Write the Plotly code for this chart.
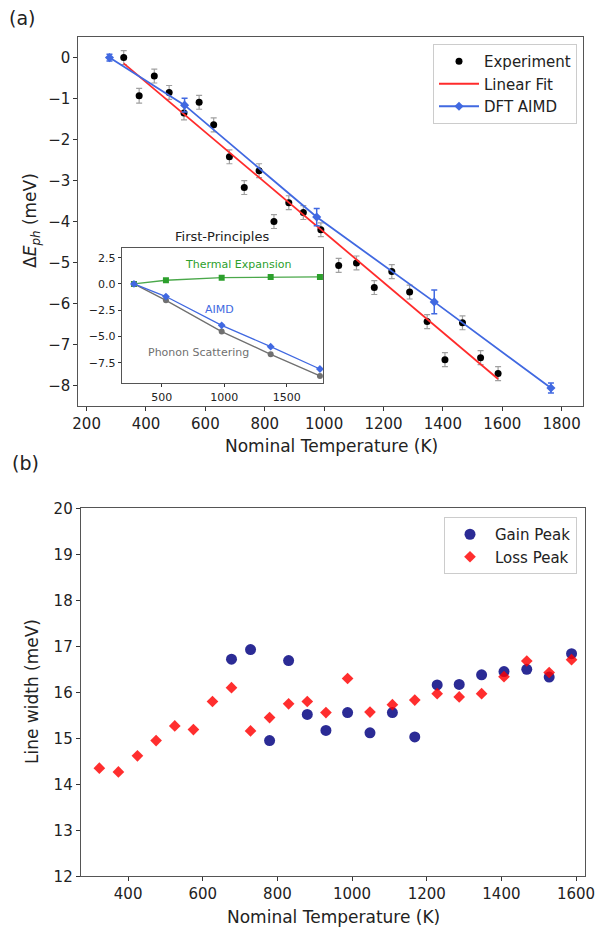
import plotly.graph_objects as go

W, H = 602, 935

# ---------------- Panel (a) data ----------------
exp_T = [325, 377, 428, 478, 528, 579, 628, 681, 731, 781, 831, 881, 930, 989,
         1049, 1109, 1169, 1228, 1288, 1347, 1407, 1466, 1527, 1586]
exp_E = [0.0, -0.93, -0.45, -0.85, -1.35, -1.09, -1.64, -2.42, -3.17, -2.76, -4.0, -3.54,
         -3.78, -4.2, -5.07, -5.01, -5.61, -5.22, -5.72, -6.44, -7.37, -6.47, -7.32, -7.71]
exp_err = [0.17, 0.18, 0.17, 0.17, 0.17, 0.17, 0.17, 0.17, 0.17, 0.17, 0.17, 0.17,
           0.17, 0.17, 0.17, 0.17, 0.17, 0.17, 0.17, 0.17, 0.17, 0.17, 0.17, 0.17]
fit_T = [325, 1586]
fit_E = [-0.14, -7.84]
dft_T = [277, 530, 975, 1371, 1764]
dft_E = [0.0, -1.16, -3.89, -5.96, -8.06]
dft_err = [0.08, 0.17, 0.21, 0.29, 0.12]

# inset
inset_T = [278, 534, 980, 1372, 1766]
thermal_E = [0.0, 0.35, 0.60, 0.67, 0.67]
aimd_E = [0.0, -1.20, -3.94, -5.97, -8.10]
phonon_E = [0.0, -1.56, -4.54, -6.70, -8.76]

# ---------------- Panel (b) data ----------------
loss_T = [323, 374, 425, 475, 525, 575, 626, 677, 728, 779, 830, 880, 930, 988,
          1048, 1108, 1168, 1228, 1287, 1347, 1407, 1468, 1528, 1588]
loss_W = [14.35, 14.27, 14.62, 14.95, 15.27, 15.19, 15.80, 16.10, 15.16, 15.45, 15.75, 15.80,
          15.56, 16.30, 15.57, 15.73, 15.83, 15.97, 15.90, 15.97, 16.34, 16.68, 16.43, 16.71]
gain_T = [677, 728, 779, 830, 880, 930, 988, 1048, 1108, 1168, 1228, 1287, 1347, 1407,
          1468, 1528, 1588]
gain_W = [16.72, 16.93, 14.95, 16.69, 15.52, 15.17, 15.56, 15.12, 15.56, 15.03, 16.16, 16.17,
          16.38, 16.45, 16.50, 16.33, 16.84]

FONT = "DejaVu Sans"
BLUE = "#4169e1"
RED = "#ff2b2b"
GREEN = "#2ca02c"
GRAY = "#707070"


def px_x(p):
    return p / W


def px_y(p):
    return 1 - p / H


fig = go.Figure()

# Panel (a)
fig.add_trace(go.Scatter(
    x=exp_T, y=exp_E, mode="markers", name="Experiment",
    marker=dict(color="black", size=7),
    error_y=dict(type="data", array=exp_err, color="#a0a0a0", thickness=1.2, width=3),
    xaxis="x", yaxis="y", legend="legend"))
fig.add_trace(go.Scatter(
    x=fit_T, y=fit_E, mode="lines", name="Linear Fit",
    line=dict(color=RED, width=1.8), xaxis="x", yaxis="y", legend="legend"))
fig.add_trace(go.Scatter(
    x=dft_T, y=dft_E, mode="lines+markers", name="DFT AIMD",
    line=dict(color=BLUE, width=1.8), marker=dict(symbol="diamond", size=7, color=BLUE),
    error_y=dict(type="data", array=dft_err, color=BLUE, thickness=1.5, width=3),
    xaxis="x", yaxis="y", legend="legend"))

# Inset
fig.add_trace(go.Scatter(
    x=inset_T, y=thermal_E, mode="lines+markers", showlegend=False,
    line=dict(color="#4aa84a", width=1.3), marker=dict(symbol="square", size=6, color=GREEN),
    xaxis="x3", yaxis="y3"))
fig.add_trace(go.Scatter(
    x=inset_T, y=phonon_E, mode="lines+markers", showlegend=False,
    line=dict(color=GRAY, width=1.3), marker=dict(symbol="circle", size=6, color=GRAY),
    xaxis="x3", yaxis="y3"))
fig.add_trace(go.Scatter(
    x=inset_T, y=aimd_E, mode="lines+markers", showlegend=False,
    line=dict(color=BLUE, width=1.3), marker=dict(symbol="diamond", size=6, color=BLUE),
    xaxis="x3", yaxis="y3"))

# Panel (b)
fig.add_trace(go.Scatter(
    x=gain_T, y=gain_W, mode="markers", name="Gain Peak",
    marker=dict(symbol="circle", size=11, color="rgba(0,0,128,0.83)", line=dict(width=0)),
    xaxis="x2", yaxis="y2", legend="legend2"))
fig.add_trace(go.Scatter(
    x=loss_T, y=loss_W, mode="markers", name="Loss Peak",
    marker=dict(symbol="diamond", size=9, color="rgba(255,0,0,0.82)", line=dict(width=0)),
    xaxis="x2", yaxis="y2", legend="legend2"))

axis_common = dict(showline=True, linecolor="#555", linewidth=1, mirror=True,
                   ticks="outside", ticklen=4, tickcolor="#333", showgrid=False,
                   zeroline=False, automargin=False,
                   tickfont=dict(family=FONT, size=15, color="#222"))
inset_axis = dict(showline=True, linecolor="#555", linewidth=1, mirror=True,
                  ticks="outside", ticklen=3, tickcolor="#333", showgrid=False,
                  zeroline=False, automargin=False,
                  tickfont=dict(family=FONT, size=11, color="#222"))

fig.update_layout(
    width=W, height=H, autosize=False,
    margin=dict(l=0, r=0, t=0, b=0, pad=0, autoexpand=False),
    paper_bgcolor="white", plot_bgcolor="white",
    font=dict(family=FONT, color="#222"),
    xaxis=dict(domain=[px_x(78.3), px_x(583.3)], range=[172, 1873],
               tickvals=[200, 400, 600, 800, 1000, 1200, 1400, 1600, 1800], anchor="y",
               **axis_common),
    yaxis=dict(domain=[px_y(406), px_y(36.7)], range=[-8.5, 0.51],
               tickvals=[0, -1, -2, -3, -4, -5, -6, -7, -8], anchor="x", **axis_common),
    xaxis2=dict(domain=[px_x(80.7), px_x(585)], range=[273, 1624],
                tickvals=[400, 600, 800, 1000, 1200, 1400, 1600], anchor="y2", **axis_common),
    yaxis2=dict(domain=[px_y(876.3), px_y(508.3)], range=[12, 20],
                tickvals=[12, 13, 14, 15, 16, 17, 18, 19, 20], anchor="x2", **axis_common),
    xaxis3=dict(domain=[px_x(121.7), px_x(323.3)], range=[180, 1793],
                tickvals=[500, 1000, 1500], anchor="y3", **inset_axis),
    yaxis3=dict(domain=[px_y(383.3), px_y(247.7)], range=[-9.46, 3.45],
                tickvals=[2.5, 0, -2.5, -5, -7.5], tickformat=".1f", anchor="x3",
                **inset_axis),
    legend=dict(x=px_x(577), y=px_y(44), xanchor="right", yanchor="top",
                bgcolor="rgba(255,255,255,0.85)", bordercolor="#cccccc", borderwidth=1,
                font=dict(family=FONT, size=15, color="#222"), tracegroupgap=0,
                itemwidth=40),
    legend2=dict(x=px_x(577), y=px_y(517), xanchor="right", yanchor="top",
                 bgcolor="rgba(255,255,255,0.85)", bordercolor="#cccccc", borderwidth=1,
                 font=dict(family=FONT, size=15, color="#222"), tracegroupgap=0,
                 itemwidth=40),
    shapes=[dict(type="line", xref="x3 domain", yref="y3", x0=0, x1=1, y0=0, y1=0,
                 line=dict(color="#999", width=1, dash="dot"), layer="below")],
)


def label(text, x, y, size, color="#222", angle=0):
    return dict(text=text, x=px_x(x), y=px_y(y), xref="paper", yref="paper",
                xanchor="center", yanchor="middle", showarrow=False, textangle=angle,
                font=dict(family=FONT, size=size, color=color))


ann = [
    label("(a)", 22, 18, 19),
    label("(b)", 25, 463, 19),
    label("Nominal Temperature (K)", 331, 446, 17),
    label("Nominal Temperature (K)", 333, 917, 17),
    label("Δ<i>E</i><sub><i>ph</i></sub> (meV)", 32, 221, 17, angle=-90),
    label("Line width (meV)", 32, 692, 17, angle=-90),
    label("First-Principles", 222, 236, 13),
    label("Thermal Expansion", 238, 264, 11, GREEN),
    label("AIMD", 219, 309, 11, BLUE),
    label("Phonon Scattering", 198, 352, 11, GRAY),
]
fig.update_layout(annotations=ann)

fig.write_html("out.html", config={"responsive": False},
               post_script="document.body.style.margin='0';document.body.style.padding='0';")
